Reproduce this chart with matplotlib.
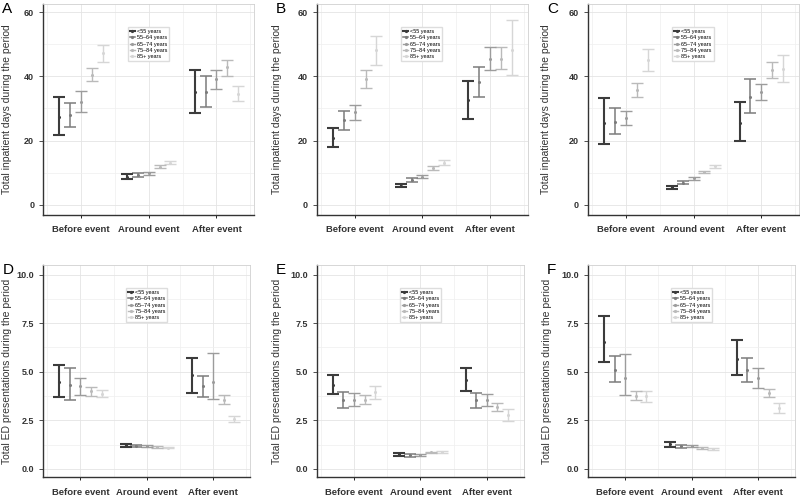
import matplotlib
matplotlib.use('Agg')
import numpy as np
import matplotlib.pyplot as plt
from matplotlib.ticker import MultipleLocator
from matplotlib.lines import Line2D

plt.rcParams['font.family'] = ['Liberation Sans', 'DejaVu Sans']

periods = ['Before event', 'Around event', 'After event']
age_groups = ['<55 years', '55–64 years', '65–74 years', '75–84 years', '85+ years']
group_colors = ['#3c3c3c', '#7c7c7c', '#9c9c9c', '#bababa', '#d6d6d6']
group_lw = [1.5, 1.1, 1.0, 1.0, 1.0]

# each list: one row per age group, one value per period (before, around, after)
a_mean = [[27.3, 8.8, 35.0], [27.8, 9.2, 35.1], [32.0, 9.8, 39.0], [40.5, 11.8, 42.8], [47.2, 13.1, 34.6]]
a_low = [[21.6, 8.0, 28.6], [24.3, 8.5, 30.4], [28.9, 9.3, 36.1], [38.6, 11.4, 40.1], [44.3, 12.7, 32.4]]
a_high = [[33.5, 9.6, 42.1], [31.6, 9.9, 40.2], [35.3, 10.3, 42.1], [42.5, 12.3, 45.2], [49.6, 13.6, 36.9]]

b_mean = [[20.7, 6.0, 32.5], [26.3, 7.6, 38.1], [28.8, 8.8, 45.5], [39.3, 11.4, 45.5], [48.1, 13.0, 48.1]]
b_low = [[18.1, 5.5, 26.6], [23.4, 7.0, 33.5], [26.4, 8.3, 41.8], [36.3, 10.7, 42.2], [43.6, 12.3, 40.3]]
b_high = [[24.0, 6.4, 38.6], [29.3, 8.3, 42.9], [31.2, 9.2, 49.1], [42.1, 12.0, 49.1], [52.6, 13.8, 57.4]]

c_mean = [[25.4, 5.4, 25.6], [25.8, 6.9, 33.5], [27.0, 8.2, 35.1], [35.8, 10.2, 42.1], [45.2, 12.0, 42.4]]
c_low = [[19.0, 4.9, 20.0], [22.0, 6.4, 28.7], [24.7, 7.8, 32.6], [33.7, 9.9, 39.4], [41.7, 11.4, 38.2]]
c_high = [[33.1, 5.9, 32.0], [30.1, 7.3, 39.3], [29.1, 8.5, 37.5], [37.9, 10.5, 44.4], [48.6, 12.5, 46.5]]

d_mean = [[4.48, 1.22, 4.83], [4.33, 1.19, 4.26], [4.26, 1.18, 4.47], [4.00, 1.14, 3.54], [3.88, 1.10, 2.58]]
d_low = [[3.71, 1.13, 3.92], [3.54, 1.13, 3.71], [3.80, 1.13, 3.61], [3.76, 1.10, 3.32], [3.68, 1.07, 2.44]]
d_high = [[5.34, 1.31, 5.69], [5.17, 1.25, 4.76], [4.66, 1.24, 5.96], [4.23, 1.17, 3.80], [4.04, 1.13, 2.71]]

e_mean = [[4.33, 0.75, 4.59], [3.54, 0.71, 3.54], [3.57, 0.71, 3.57], [3.57, 0.85, 3.21], [3.95, 0.88, 2.80]]
e_low = [[3.85, 0.67, 4.02], [3.13, 0.64, 3.14], [3.26, 0.65, 3.26], [3.33, 0.81, 2.99], [3.61, 0.84, 2.49]]
e_high = [[4.81, 0.82, 5.19], [3.97, 0.77, 3.93], [3.92, 0.77, 3.87], [3.80, 0.89, 3.42], [4.28, 0.93, 3.11]]

f_mean = [[6.53, 1.27, 5.65], [5.07, 1.17, 5.07], [4.66, 1.18, 4.66], [3.76, 1.10, 3.90], [3.73, 1.03, 3.13]]
f_low = [[5.48, 1.15, 4.83], [4.47, 1.10, 4.45], [3.81, 1.12, 4.18], [3.56, 1.05, 3.68], [3.45, 0.98, 2.87]]
f_high = [[7.89, 1.37, 6.62], [5.81, 1.24, 5.69], [5.91, 1.25, 5.22], [3.99, 1.15, 4.12], [4.02, 1.08, 3.38]]

label_days = 'Total inpatient days during the period'
label_ed = 'Total ED presentations during the period'


def draw_panel(ax, mean, low, high, ylabel, ylim, major, letter, label_x):
    x = np.arange(len(periods))
    for i, name in enumerate(age_groups):
        m = np.array(mean[i])
        err = [m - np.array(low[i]), np.array(high[i]) - m]
        ax.errorbar(x + (i - 2) * 0.16, m, yerr=err, fmt='o', ms=1.2,
                    color=group_colors[i], ecolor=group_colors[i],
                    elinewidth=group_lw[i], capthick=group_lw[i], capsize=4.3,
                    zorder=3 + (4 - i))
    ax.set_xlim(-0.56, 2.56)
    ax.set_ylim(*ylim)
    ax.set_xticks(x)
    ax.set_xticklabels(periods, fontsize=6.8, fontweight='bold', color='#333333')
    ax.xaxis.set_minor_locator(MultipleLocator(0.5))
    ax.yaxis.set_major_locator(MultipleLocator(major))
    ax.yaxis.set_minor_locator(MultipleLocator(major / 2))
    if major < 5:
        ax.yaxis.set_major_formatter(plt.FormatStrFormatter('%.1f'))
    ax.tick_params(axis='y', labelsize=6.5, colors='#333333', length=3, width=0.6)
    ax.tick_params(axis='x', length=2.5, width=0.6, pad=5)
    ax.tick_params(which='minor', length=0)
    for lab in ax.get_yticklabels():
        lab.set_fontweight('bold')
    ax.grid(which='major', color='#e4e4e4', lw=0.6)
    ax.grid(which='minor', color='#efefef', lw=0.5)
    ax.set_axisbelow(True)
    for side in ['top', 'right']:
        ax.spines[side].set_color('#d0d0d0')
        ax.spines[side].set_linewidth(0.6)
    for side in ['left', 'bottom']:
        ax.spines[side].set_color('#333333')
        ax.spines[side].set_linewidth(1.0)
    ax.set_ylabel(ylabel, fontsize=7.5, color='#333333')
    ax.yaxis.set_label_coords(label_x, 0.5)

    handles = [Line2D([], [], color=group_colors[i], lw=group_lw[i], marker='o', ms=1.3)
               for i in range(len(age_groups))]
    ax.legend(handles, age_groups, loc='upper left', bbox_to_anchor=(0.40, 0.89),
              fontsize=4.0, frameon=True, fancybox=False, edgecolor='#dddddd',
              framealpha=1, handlelength=0.9, handletextpad=0.35, borderpad=0.35,
              labelspacing=0.22, borderaxespad=0)

    fig = ax.figure
    pos = ax.get_position()
    fig.text(pos.x0 - 0.051, pos.y1 + 0.003, letter, fontsize=11, va='top', ha='left')


fig = plt.figure(figsize=(8, 4.96), dpi=100)

col_left = [0.054, 0.396, 0.735]
label_xs = [-0.15, -0.167, -0.176]
top_axes = [fig.add_axes([l, 0.567, 0.264, 0.425]) for l in col_left]
bottom_axes = [fig.add_axes([l, 0.038, 0.259, 0.428]) for l in col_left]

draw_panel(top_axes[0], a_mean, a_low, a_high, label_days, (-3.1, 62.5), 20, 'A', label_xs[0])
draw_panel(top_axes[1], b_mean, b_low, b_high, label_days, (-3.1, 62.5), 20, 'B', label_xs[1])
draw_panel(top_axes[2], c_mean, c_low, c_high, label_days, (-3.1, 62.5), 20, 'C', label_xs[2])
draw_panel(bottom_axes[0], d_mean, d_low, d_high, label_ed, (-0.42, 10.5), 2.5, 'D', label_xs[0])
draw_panel(bottom_axes[1], e_mean, e_low, e_high, label_ed, (-0.42, 10.5), 2.5, 'E', label_xs[1])
draw_panel(bottom_axes[2], f_mean, f_low, f_high, label_ed, (-0.42, 10.5), 2.5, 'F', label_xs[2])

fig.savefig('out.png', dpi=100)
